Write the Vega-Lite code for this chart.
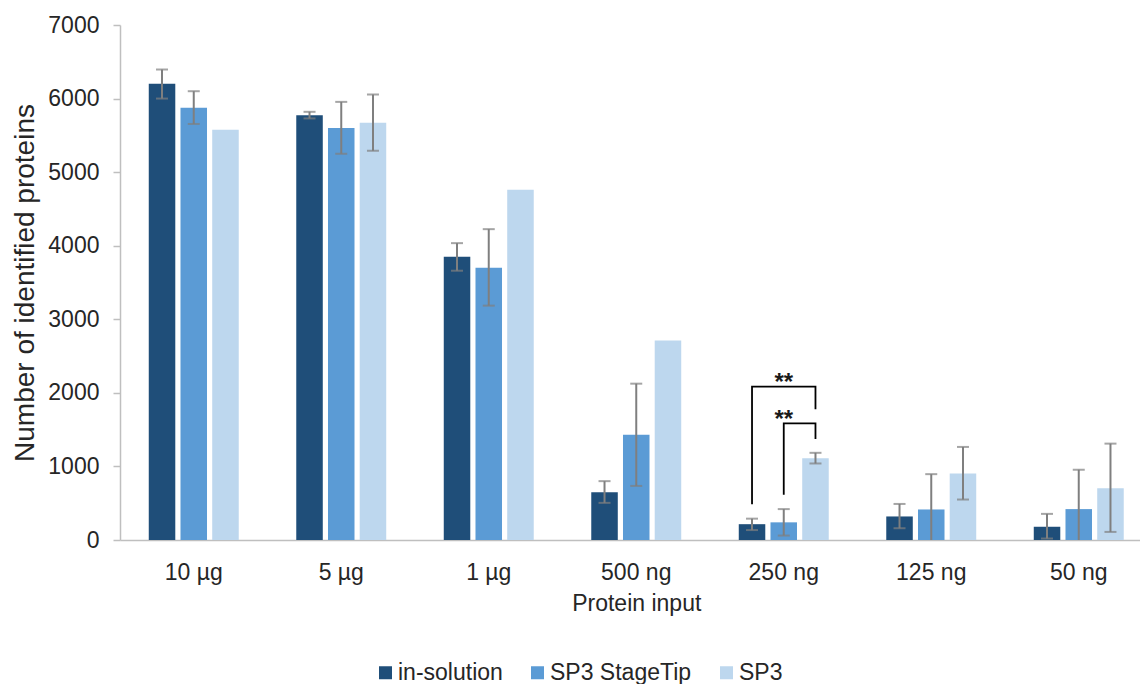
{
  "$schema": "https://vega.github.io/schema/vega-lite/v6.json",
  "width": 1020,
  "height": 515,
  "autosize": {"type": "none"},
  "padding": {"left": 120, "top": 25, "right": 0, "bottom": 144},
  "background": "white",
  "config": {
    "view": {"stroke": null},
    "font": "Liberation Sans",
    "axis": {
      "labelFont": "Liberation Sans",
      "titleFont": "Liberation Sans",
      "labelColor": "#262626",
      "titleColor": "#262626",
      "titleFontWeight": "normal",
      "domainColor": "#BFBFBF",
      "domainWidth": 1.5,
      "tickColor": "#BFBFBF",
      "tickWidth": 1.5,
      "grid": false
    },
    "legend": {
      "labelFont": "Liberation Sans",
      "labelColor": "#262626"
    }
  },
  "datasets": {
    "bars": [
      {"input": "10 µg", "method": "in-solution", "value": 6200, "lo": 6000, "hi": 6395},
      {"input": "10 µg", "method": "SP3 StageTip", "value": 5875, "lo": 5655, "hi": 6100},
      {"input": "10 µg", "method": "SP3", "value": 5575, "lo": null, "hi": null},
      {"input": "5 µg", "method": "in-solution", "value": 5775, "lo": 5730, "hi": 5820},
      {"input": "5 µg", "method": "SP3 StageTip", "value": 5600, "lo": 5250, "hi": 5955},
      {"input": "5 µg", "method": "SP3", "value": 5670, "lo": 5290, "hi": 6055},
      {"input": "1 µg", "method": "in-solution", "value": 3850, "lo": 3660, "hi": 4035},
      {"input": "1 µg", "method": "SP3 StageTip", "value": 3700, "lo": 3185, "hi": 4225},
      {"input": "1 µg", "method": "SP3", "value": 4760, "lo": null, "hi": null},
      {"input": "500 ng", "method": "in-solution", "value": 650, "lo": 505, "hi": 800},
      {"input": "500 ng", "method": "SP3 StageTip", "value": 1430, "lo": 735, "hi": 2125},
      {"input": "500 ng", "method": "SP3", "value": 2710, "lo": null, "hi": null},
      {"input": "250 ng", "method": "in-solution", "value": 215, "lo": 135, "hi": 290},
      {"input": "250 ng", "method": "SP3 StageTip", "value": 240, "lo": 60, "hi": 420},
      {"input": "250 ng", "method": "SP3", "value": 1110, "lo": 1040, "hi": 1185},
      {"input": "125 ng", "method": "in-solution", "value": 320, "lo": 160, "hi": 490},
      {"input": "125 ng", "method": "SP3 StageTip", "value": 415, "lo": -60, "hi": 895},
      {"input": "125 ng", "method": "SP3", "value": 905, "lo": 550, "hi": 1265},
      {"input": "50 ng", "method": "in-solution", "value": 180, "lo": 20, "hi": 355},
      {"input": "50 ng", "method": "SP3 StageTip", "value": 420, "lo": -110, "hi": 955},
      {"input": "50 ng", "method": "SP3", "value": 705, "lo": 110, "hi": 1310}
    ],
    "brackets": [
      {"input": "250 ng", "pair": "in-solution vs SP3", "method": "in-solution", "y": 485, "step": 1},
      {"input": "250 ng", "pair": "in-solution vs SP3", "method": "in-solution", "y": 2085, "step": 2},
      {"input": "250 ng", "pair": "in-solution vs SP3", "method": "SP3", "y": 2085, "step": 3},
      {"input": "250 ng", "pair": "in-solution vs SP3", "method": "SP3", "y": 1776, "step": 4},
      {"input": "250 ng", "pair": "SP3 StageTip vs SP3", "method": "SP3 StageTip", "y": 616, "step": 1},
      {"input": "250 ng", "pair": "SP3 StageTip vs SP3", "method": "SP3 StageTip", "y": 1586, "step": 2},
      {"input": "250 ng", "pair": "SP3 StageTip vs SP3", "method": "SP3", "y": 1586, "step": 3},
      {"input": "250 ng", "pair": "SP3 StageTip vs SP3", "method": "SP3", "y": 1373, "step": 4}
    ],
    "stars": [
      {"input": "250 ng", "method": "SP3 StageTip", "y": 2035, "label": "**", "shift": 0},
      {"input": "250 ng", "method": "SP3 StageTip", "y": 1540, "label": "**", "shift": 16}
    ]
  },
  "encoding": {
    "x": {
      "field": "input",
      "type": "nominal",
      "sort": ["10 µg", "5 µg", "1 µg", "500 ng", "250 ng", "125 ng", "50 ng"],
      "scale": {
        "domain": ["10 µg", "5 µg", "1 µg", "500 ng", "250 ng", "125 ng", "50 ng"],
        "range": [0, 1032.5],
        "paddingInner": 0.39,
        "paddingOuter": 0.195
      },
      "axis": {
        "title": "Protein input",
        "labelAngle": 0,
        "labelFontSize": 23,
        "titleFontSize": 23,
        "ticks": false,
        "tickSize": 0,
        "labelPadding": 21,
        "titlePadding": 8
      }
    },
    "xOffset": {
      "field": "method",
      "type": "nominal",
      "scale": {
        "domain": ["in-solution", "SP3 StageTip", "SP3"],
        "paddingInner": 0.164,
        "paddingOuter": 0
      }
    }
  },
  "layer": [
    {
      "data": {"name": "bars"},
      "mark": {"type": "bar"},
      "encoding": {
        "y": {
          "field": "value",
          "type": "quantitative",
          "scale": {"domain": [0, 7000], "nice": false},
          "axis": {
            "title": "Number of identified proteins",
            "values": [0, 1000, 2000, 3000, 4000, 5000, 6000, 7000],
            "format": "d",
            "labelFontSize": 23,
            "titleFontSize": 28,
            "tickSize": 7,
            "labelPadding": 14,
            "titlePadding": 8
          }
        },
        "color": {
          "field": "method",
          "type": "nominal",
          "scale": {
            "domain": ["in-solution", "SP3 StageTip", "SP3"],
            "range": ["#1F4E79", "#5B9BD5", "#BDD7EE"]
          },
          "legend": {
            "title": null,
            "orient": "none",
            "direction": "horizontal",
            "legendX": 254,
            "legendY": 636,
            "symbolType": "square",
            "symbolSize": 169,
            "symbolStrokeWidth": 0,
            "labelFontSize": 23,
            "labelOffset": 1,
            "columnPadding": 23
          }
        }
      }
    },
    {
      "data": {"name": "bars"},
      "transform": [{"filter": "datum.lo != null"}],
      "mark": {"type": "rule", "color": "#7F7F7F", "strokeWidth": 2, "clip": true},
      "encoding": {
        "y": {"field": "lo", "type": "quantitative"},
        "y2": {"field": "hi"}
      }
    },
    {
      "data": {"name": "bars"},
      "transform": [{"filter": "datum.lo != null"}],
      "mark": {"type": "tick", "color": "#7F7F7F", "size": 12, "thickness": 2, "orient": "horizontal", "clip": true},
      "encoding": {
        "y": {"field": "hi", "type": "quantitative"}
      }
    },
    {
      "data": {"name": "bars"},
      "transform": [{"filter": "datum.lo != null"}],
      "mark": {"type": "tick", "color": "#7F7F7F", "size": 12, "thickness": 2, "orient": "horizontal", "clip": true},
      "encoding": {
        "y": {"field": "lo", "type": "quantitative"}
      }
    },
    {
      "data": {"name": "brackets"},
      "mark": {"type": "line", "color": "#000000", "strokeWidth": 1.8},
      "encoding": {
        "y": {"field": "y", "type": "quantitative"},
        "detail": {"field": "pair"},
        "order": {"field": "step", "type": "quantitative"}
      }
    },
    {
      "data": {"name": "stars"},
      "mark": {"type": "text", "fontSize": 24, "fontWeight": "bold", "color": "#1a1a1a", "baseline": "alphabetic", "align": "center"},
      "encoding": {
        "y": {"field": "y", "type": "quantitative"},
        "text": {"field": "label"},
        "dx": {"field": "shift", "type": "quantitative", "scale": null}
      }
    }
  ]
}
